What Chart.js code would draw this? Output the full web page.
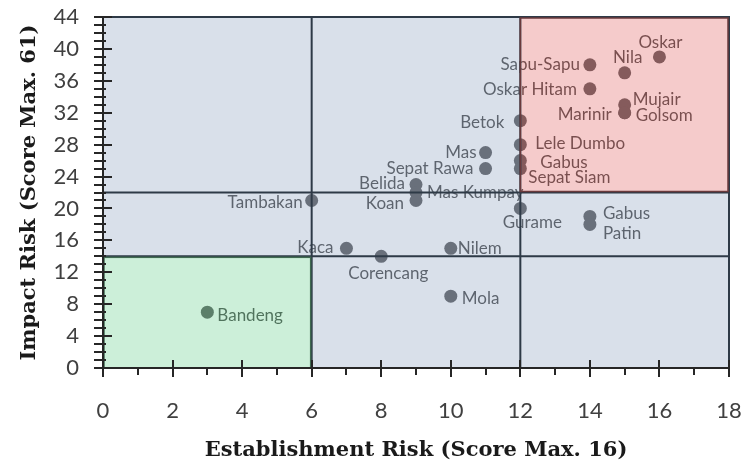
<!DOCTYPE html>
<html>
<head>
<meta charset="utf-8">
<script src="https://cdn.jsdelivr.net/npm/chart.js@4"></script>
<style>
  body { margin: 0; background: #fff; }
</style>
</head>
<body>
<canvas id="grafico" width="745" height="471"></canvas>
<script>
// Data
var names = ['Bandeng','Tambakan','Kaca','Corencang','Nilem','Mola','Belida','Mas Kumpay','Koan',
  'Sepat Rawa','Mas','Betok','Lele Dumbo','Gabus','Sepat Siam','Gurame','Sapu-Sapu','Oskar Hitam',
  'Nila','Oskar','Mujair','Marinir','Golsom','Gabus','Patin'];
var estRisk = [3,6,7,8,10,10,9,9,9,11,11,12,12,12,12,12,14,14,15,16,15,15,15,14,14];
var impRisk = [7,21,15,14,15,9,23,22,21,25,27,31,28,26,25,20,38,35,37,39,33,32,32,19,18];
var xCuts = [6, 12];
var yCuts = [14, 22];

// where each label sits next to its point: side, dx, dy (px)
var labelPlace = [
  ['r',10,3],['l',9,2],['l',13,-1],['b',7,17],['r',7,0],['r',11,2],['l',11,-1],['r',11,0],['l',12,3],
  ['l',12,0],['l',9,0],['l',16,2],['r',15,-1],['r',20,2],['r',8,9],['b',12,14],['l',10,0],['l',13,1],
  ['t',3,-15],['t',1,-14],['r',8,-5],['l',13,2],['r',11,3],['r',13,-3],['r',13,9]
];

var pts = estRisk.map(function (v, i) { return { x: v, y: impRisk[i] }; });

function noPad(s) {
  s.paddingTop = 0; s.paddingBottom = 0; s.paddingLeft = 0; s.paddingRight = 0;
}

var quadPlugin = {
  id: 'quad',
  beforeDraw: function (chart) {
    var ctx = chart.ctx;
    ctx.save();
    ctx.fillStyle = '#fff';
    ctx.fillRect(0, 0, chart.width, chart.height);
    ctx.restore();
  },
  afterDatasetsDraw: function (chart) {
    var ctx = chart.ctx, a = chart.chartArea;
    var sx = chart.scales.x, sy = chart.scales.y;
    ctx.save();

    // labels
    ctx.font = '17px Lato';
    ctx.fillStyle = 'rgb(62,62,62)';
    ctx.textBaseline = 'middle';
    names.forEach(function (n, i) {
      var px = sx.getPixelForValue(estRisk[i]);
      var py = sy.getPixelForValue(impRisk[i]);
      var p = labelPlace[i];
      if (p[0] == 'r') { ctx.textAlign = 'left'; ctx.fillText(n, px + p[1], py + p[2]); }
      else if (p[0] == 'l') { ctx.textAlign = 'right'; ctx.fillText(n, px - p[1], py + p[2]); }
      else { ctx.textAlign = 'center'; ctx.fillText(n, px + p[1], py + p[2]); }
    });

    // region overlays
    var x6 = sx.getPixelForValue(xCuts[0]), x12 = sx.getPixelForValue(xCuts[1]);
    var y14 = sy.getPixelForValue(yCuts[0]), y22 = sy.getPixelForValue(yCuts[1]);
    ctx.beginPath();
    ctx.rect(a.left, a.top, a.right - a.left, a.bottom - a.top);
    ctx.rect(x12, a.top, a.right - x12, y22 - a.top);
    ctx.rect(a.left, y14, x6 - a.left, a.bottom - y14);
    ctx.fillStyle = 'rgba(150,169,197,0.36)';
    ctx.fill('evenodd');
    ctx.fillStyle = 'rgba(228,112,112,0.36)';
    ctx.fillRect(x12, a.top, a.right - x12, y22 - a.top);
    ctx.fillStyle = 'rgba(114,211,150,0.36)';
    ctx.fillRect(a.left, y14, x6 - a.left, a.bottom - y14);

    // quadrant lines and frame
    ctx.strokeStyle = '#2e3a47';
    ctx.lineWidth = 2;
    ctx.beginPath();
    [x6, x12].forEach(function (xx) { ctx.moveTo(xx, a.top); ctx.lineTo(xx, a.bottom); });
    [y14, y22].forEach(function (yy) { ctx.moveTo(a.left, yy); ctx.lineTo(a.right, yy); });
    ctx.moveTo(a.left, a.top); ctx.lineTo(a.right, a.top); ctx.lineTo(a.right, a.bottom);
    ctx.stroke();
    ctx.strokeStyle = '#6a3a3c';
    ctx.lineWidth = 1.5;
    ctx.strokeRect(x12, a.top + 1, a.right - x12 - 1, y22 - a.top - 2);
    ctx.strokeStyle = '#3f6a50';
    ctx.strokeRect(a.left + 1, y14 + 1, x6 - a.left - 2, a.bottom - y14 - 1);

    // axes with ticks
    ctx.strokeStyle = '#262626';
    ctx.lineWidth = 2;
    ctx.beginPath();
    ctx.moveTo(a.left, a.top); ctx.lineTo(a.left, a.bottom); ctx.lineTo(a.right, a.bottom);
    for (var v = 0; v <= 44; v++) {
      var ty = Math.round(sy.getPixelForValue(v));
      ctx.moveTo(a.left - 9, ty);
      ctx.lineTo(a.left + (v % 4 == 0 ? 9 : 3), ty);
    }
    for (var w = 0; w <= 18; w++) {
      var tx = Math.round(sx.getPixelForValue(w));
      if (w % 2 == 0) { ctx.moveTo(tx, a.bottom - 8); ctx.lineTo(tx, a.bottom + 9); }
      else { ctx.moveTo(tx, a.bottom); ctx.lineTo(tx, a.bottom + 7); }
    }
    ctx.stroke();
    ctx.restore();
  }
};

new Chart(document.getElementById('grafico'), {
  type: 'scatter',
  data: {
    datasets: [{
      data: pts,
      backgroundColor: 'rgb(80,80,82)',
      borderWidth: 0,
      pointRadius: 6.5,
      pointHoverRadius: 6.5
    }]
  },
  options: {
    responsive: false,
    animation: false,
    events: [],
    layout: { padding: { left: 0, right: 16, top: 17, bottom: 0 } },
    plugins: {
      legend: { display: false },
      tooltip: { enabled: false }
    },
    scales: {
      x: {
        min: 0, max: 18,
        afterFit: function (s) { s.height = 103; noPad(s); },
        grid: { display: false, drawTicks: false },
        border: { display: false },
        ticks: { stepSize: 2, padding: 30, color: '#404040', font: { family: 'Lato', size: 22 } },
        title: {
          display: true,
          text: 'Establishment Risk (Score Max. 16)',
          color: '#1a1a1a',
          font: { family: 'DejaVu Serif', size: 21, weight: 'bold' },
          padding: { top: 0, bottom: 8 }
        }
      },
      y: {
        min: 0, max: 44,
        afterFit: function (s) { s.width = 103; noPad(s); },
        grid: { display: false, drawTicks: false },
        border: { display: false },
        ticks: { stepSize: 4, padding: 24, color: '#404040', font: { family: 'Lato', size: 22 } },
        title: {
          display: true,
          text: 'Impact Risk (Score Max. 61)',
          color: '#1a1a1a',
          font: { family: 'DejaVu Serif', size: 21, weight: 'bold' },
          padding: { top: 17, bottom: 0 }
        }
      }
    }
  },
  plugins: [quadPlugin]
});
</script>
</body>
</html>
